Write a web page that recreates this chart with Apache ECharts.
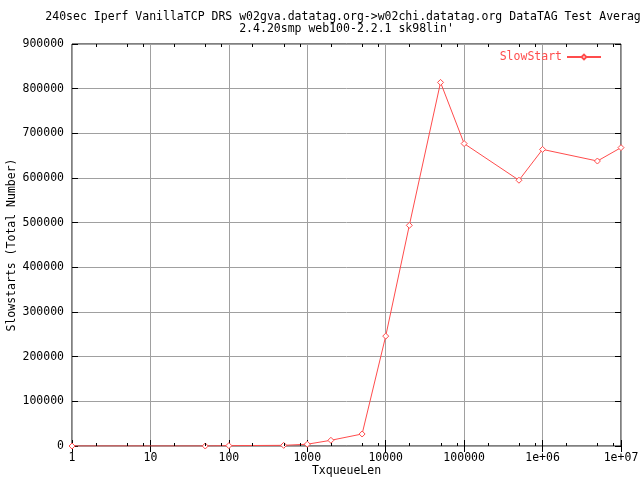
<!DOCTYPE html>
<html><head><meta charset="utf-8">
<script src="https://cdn.jsdelivr.net/npm/echarts@6/dist/echarts.min.js"></script>
<style>html,body{margin:0;padding:0;background:#fff}#c{width:640px;height:480px}</style>
</head><body><div id="c"></div>
<script>
const titleLine1 = '240sec Iperf VanillaTCP DRS w02gva.datatag.org->w02chi.datatag.org DataTAG Test Average';
const titleLine2 = "2.4.20smp web100-2.2.1 sk98lin'";
const seriesName = 'SlowStart';
const xAxisTitle = 'TxqueueLen';
const yAxisTitle = 'Slowstarts (Total Number)';
const txqueueLen = [1, 50, 100, 500, 1000, 2000, 5000, 10000, 20000, 50000, 100000, 500000, 1000000, 5000000, 10000000];
const slowStarts = [0, 0, 800, 1500, 4000, 12800, 26900, 246000, 494000, 814000, 677000, 595000, 664000, 638000, 668000];
const xTickValues = [1, 10, 100, 1000, 10000, 100000, 1000000, 10000000];
const xTickLabels = ['1', '10', '100', '1000', '10000', '100000', '1e+06', '1e+07'];
const xMinorTicks = [2, 5, 8, 20, 50, 80, 200, 500, 800, 2000, 5000, 8000, 20000, 50000, 80000, 200000, 500000, 800000, 2000000, 5000000, 8000000];
const yMin = 0, yMax = 900000, yStep = 100000;

const FONT = 'DejaVu Sans Mono';
const FS = 11.5;
const RED = '#ff4c4c';
const GRIDC = '#a0a0a0';

function xLabel(v) {
  const i = xTickValues.findIndex(t => Math.abs(Math.log10(t) - Math.log10(v)) < 1e-6);
  return i >= 0 ? xTickLabels[i] : '';
}

const chart = echarts.init(document.getElementById('c'), null, {renderer: 'canvas'});
chart.setOption({
  animation: false,
  backgroundColor: '#fff',
  textStyle: {fontFamily: FONT, fontSize: FS, color: '#000'},
  grid: {left: 72, right: 19, top: 44, bottom: 34, containLabel: false, outerBoundsMode: 'none',
         show: true, borderColor: '#000', borderWidth: 1, backgroundColor: 'transparent'},
  graphic: [
    {type: 'text', x: 346.5, y: 17, style: {text: titleLine1, textAlign: 'center', textVerticalAlign: 'middle', font: FS + 'px "' + FONT + '"', fill: '#000'}},
    {type: 'text', x: 346.5, y: 29, style: {text: titleLine2, textAlign: 'center', textVerticalAlign: 'middle', font: FS + 'px "' + FONT + '"', fill: '#000'}}
  ],
  legend: {
    data: [seriesName], right: 33, top: 46, align: 'right', itemWidth: 34, itemHeight: 6, itemGap: 5,
    textStyle: {color: RED, fontFamily: FONT, fontSize: FS}
  },
  xAxis: [
    {type: 'log', logBase: 10, min: 1, max: 10000000, position: 'bottom',
     name: xAxisTitle, nameLocation: 'middle', nameGap: 19, nameMoveOverlap: false, nameTextStyle: {fontFamily: FONT, fontSize: FS, color: '#000'},
     axisLine: {show: false}, axisTick: {show: true, inside: true, length: 6, lineStyle: {color: '#000'}},
     axisLabel: {show: true, margin: 6, formatter: xLabel, fontFamily: FONT, fontSize: FS, color: '#000', showMinLabel: true, showMaxLabel: true},
     splitLine: {show: true, lineStyle: {color: GRIDC, width: 1}}, minorTick: {show: false}},
    {type: 'log', logBase: 10, min: 1, max: 10000000, position: 'top',
     axisLine: {show: false}, axisTick: {show: true, inside: true, length: 6, lineStyle: {color: '#000'}},
     axisLabel: {show: false}, splitLine: {show: false}}
  ],
  yAxis: [
    {type: 'value', min: yMin, max: yMax, interval: yStep, position: 'left',
     name: yAxisTitle, nameLocation: 'middle', nameGap: 54, nameMoveOverlap: false, nameRotate: 90, nameTextStyle: {fontFamily: FONT, fontSize: FS, color: '#000'},
     axisLine: {show: false}, axisTick: {show: true, inside: true, length: 6, lineStyle: {color: '#000'}},
     axisLabel: {margin: 8, fontFamily: FONT, fontSize: FS, color: '#000', formatter: v => String(v)},
     splitLine: {show: true, lineStyle: {color: GRIDC, width: 1}}},
    {type: 'value', min: yMin, max: yMax, interval: yStep, position: 'right',
     axisLine: {show: false}, axisTick: {show: true, inside: true, length: 6, lineStyle: {color: '#000'}},
     axisLabel: {show: false}, splitLine: {show: false}}
  ],
  series: [
    {name: seriesName, type: 'line', xAxisIndex: 0, yAxisIndex: 0,
     data: txqueueLen.map((x, i) => [x, slowStarts[i]]),
     symbol: 'diamond', symbolSize: 6, showSymbol: true,
     lineStyle: {color: RED, width: 1},
     itemStyle: {color: '#fff', borderColor: RED, borderWidth: 1},
     emphasis: {disabled: true}, z: 3},
    {type: 'custom', xAxisIndex: 0, yAxisIndex: 0, silent: true, clip: false, z: 4,
     data: xMinorTicks.map(v => [v, 0]),
     renderItem(params, api) {
       const cs = params.coordSys;
       const x = Math.round(api.coord([api.value(0), 0])[0]) + 0.5;
       const yb = cs.y + cs.height, yt = cs.y;
       return {type: 'group', children: [
         {type: 'line', shape: {x1: x, y1: yb, x2: x, y2: yb - 3}, style: {stroke: '#000', lineWidth: 1}},
         {type: 'line', shape: {x1: x, y1: yt, x2: x, y2: yt + 3}, style: {stroke: '#000', lineWidth: 1}}
       ]};
     }}
  ]
});
</script></body></html>
